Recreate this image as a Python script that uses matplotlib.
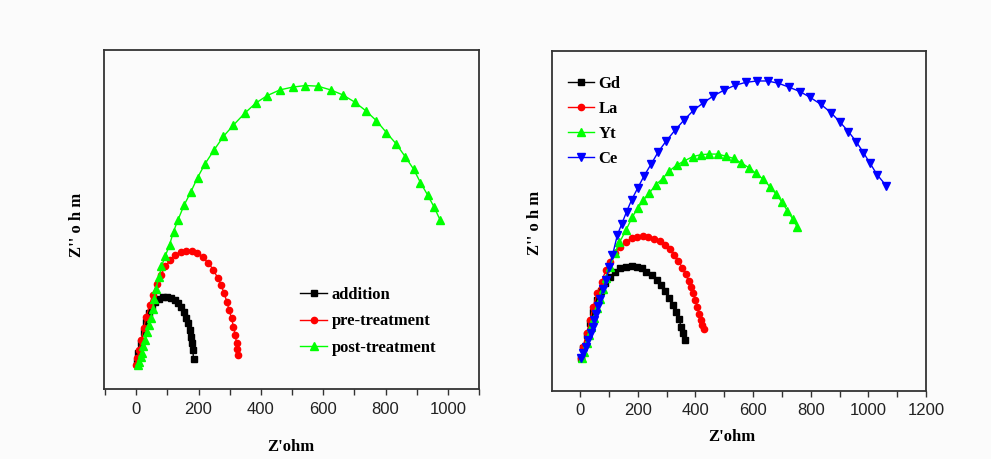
import numpy as np
import matplotlib.pyplot as plt
from matplotlib.ticker import MultipleLocator

# ---- left panel data (Z', Z'') ----
add_x = [2, 7, 15, 24, 32, 41, 50, 61, 73, 86, 98, 111, 123, 134, 143, 152, 159, 166, 172, 176, 180, 182, 184]
add_y = [11, 37, 70, 107, 139, 166, 189, 203, 213, 218, 219, 216, 209, 198, 185, 169, 152, 134, 112, 91, 70, 48, 18]

pre_x = [0, 4, 10, 16, 24, 32, 43, 53, 66, 79, 94, 110, 126, 143, 160, 179, 196, 214, 232, 248,
         261, 273, 282, 291, 298, 306, 312, 318, 322, 324, 326]
pre_y = [0, 21, 48, 80, 118, 155, 193, 225, 259, 289, 316, 337, 353, 363, 367, 367, 360, 345, 326, 305,
         280, 255, 230, 203, 176, 150, 123, 96, 70, 50, 32]

post_x = [7, 10, 14, 18, 23, 29, 35, 41, 47, 53, 58, 63, 74, 81, 93, 107, 120, 134, 154, 175, 197, 221,
          249, 280, 312, 348, 384, 421, 461, 502, 543, 583, 624, 663, 701, 737, 771, 803, 834, 863,
          890, 912, 935, 956, 975]
post_y = [0, 10, 25, 40, 60, 80, 105, 128, 152, 180, 210, 245, 283, 316, 348, 385, 428, 465, 513, 554,
          601, 645, 688, 733, 769, 807, 840, 864, 882, 891, 896, 894, 882, 866, 843, 815, 783, 745,
          709, 668, 628, 585, 545, 506, 465]

# ---- right panel data ----
gd_x = [2, 10, 22, 34, 45, 59, 71, 86, 103, 120, 138, 159, 178, 196, 213, 230, 248, 265, 280, 295,
        308, 321, 331, 342, 351, 358, 364]
gd_y = [0, 35, 81, 122, 162, 203, 235, 261, 284, 301, 313, 319, 321, 319, 313, 301, 290, 274, 255, 234,
        211, 185, 160, 136, 110, 87, 64]

la_x = [2, 10, 22, 34, 45, 59, 74, 89, 103, 120, 138, 159, 178, 198, 217, 236, 257, 277, 295, 312,
        327, 341, 354, 366, 376, 385, 393, 400, 407, 412, 418, 424, 429]
la_y = [0, 41, 87, 133, 180, 226, 266, 307, 336, 368, 388, 405, 417, 422, 424, 423, 416, 407, 394, 379,
        359, 338, 316, 292, 269, 247, 226, 203, 180, 156, 133, 116, 104]

yt_x = [6, 14, 22, 30, 39, 49, 59, 68, 78, 89, 103, 120, 136, 159, 181, 199, 219, 240, 263, 286,
        309, 335, 361, 390, 419, 447, 477, 505, 532, 558, 585, 610, 636, 659, 680, 701, 719, 738, 754]
yt_y = [0, 23, 52, 81, 110, 139, 174, 208, 243, 278, 319, 365, 403, 446, 492, 521, 550, 575, 604, 625,
        651, 672, 686, 701, 708, 710, 710, 703, 695, 680, 663, 643, 622, 596, 571, 542, 513, 484, 455]

ce_x = [2, 10, 19, 28, 36, 43, 49, 54, 61, 69, 79, 89, 101, 112, 129, 144, 161, 178, 199, 222,
        246, 271, 298, 329, 360, 393, 427, 462, 499, 537, 574, 613, 650, 688, 726, 763, 798, 835,
        870, 900, 931, 958, 983, 1006, 1030, 1062]
ce_y = [0, 20, 41, 64, 87, 110, 133, 156, 182, 208, 240, 272, 318, 359, 429, 467, 510, 550, 591, 635,
        675, 718, 755, 793, 828, 862, 888, 912, 932, 949, 959, 964, 964, 956, 942, 927, 907, 883,
        854, 823, 788, 753, 715, 678, 639, 600]

bg = '#fbfbfb'
fig = plt.figure(figsize=(9.91, 4.59), dpi=100, facecolor=bg)
ax1 = fig.add_axes([0.105, 0.1525, 0.3784, 0.7386], facecolor=bg)
ax2 = fig.add_axes([0.5567, 0.1488, 0.3777, 0.7400], facecolor=bg)

kw = dict(lw=1.0, markersize=4.5)
ax1.plot(add_x, add_y, '-s', color='black', label='addition', **kw)
ax1.plot(pre_x, pre_y, '-o', color='red', label='pre-treatment', **kw)
ax1.plot(post_x, post_y, '-^', color='#00ff00', label='post-treatment', markersize=5.5, lw=1.0)

ax2.plot(gd_x, gd_y, '-s', color='black', label='Gd', **kw)
ax2.plot(la_x, la_y, '-o', color='red', label='La', **kw)
ax2.plot(yt_x, yt_y, '-^', color='#00ff00', label='Yt', markersize=5.5, lw=1.0)
ax2.plot(ce_x, ce_y, '-v', color='#0000ff', label='Ce', markersize=5.5, lw=1.0)

ax1.set_xlim(-103, 1100)
ax1.set_ylim(-77, 1010)
ax2.set_xlim(-99, 1200)
ax2.set_ylim(-112, 1068)

for ax in (ax1, ax2):
    ax.xaxis.set_major_locator(MultipleLocator(200))
    ax.xaxis.set_minor_locator(MultipleLocator(100))
    ax.set_yticks([])
    ax.tick_params(axis='x', which='both', direction='out', length=4, width=1.0,
                   color='#333333', top=False)
    ax.tick_params(axis='x', which='major', labelsize=12, labelcolor='#222222', pad=5)
    for lab in ax.get_xticklabels():
        lab.set_fontfamily('Liberation Sans')
    for s in ax.spines.values():
        s.set_linewidth(1.3)
        s.set_color('#333333')

serif_b = dict(family='Liberation Serif', weight='bold', size=12)

leg1 = ax1.legend(loc='upper left', bbox_to_anchor=(0.523, 0.301), frameon=False,
                  prop=serif_b, handlelength=1.6, handletextpad=0.3, labelspacing=0.63,
                  borderpad=0, borderaxespad=0)
leg2 = ax2.legend(loc='upper left', bbox_to_anchor=(0.043, 0.926), frameon=False,
                  prop=serif_b, handlelength=1.6, handletextpad=0.25, labelspacing=0.53,
                  borderpad=0, borderaxespad=0)

fig.text(291 / 991, 1 - 447 / 459, "Z'ohm", ha='center', va='center', **serif_b)
fig.text(732 / 991, 1 - 437 / 459, "Z'ohm", ha='center', va='center', **serif_b)
fig.text(77 / 991, 1 - 225 / 459, "Z'' o h m", ha='center', va='center', rotation=90, **serif_b)
fig.text(535 / 991, 1 - 223 / 459, "Z'' o h m", ha='center', va='center', rotation=90, **serif_b)

fig.savefig('out.png', dpi=100, facecolor=bg)
